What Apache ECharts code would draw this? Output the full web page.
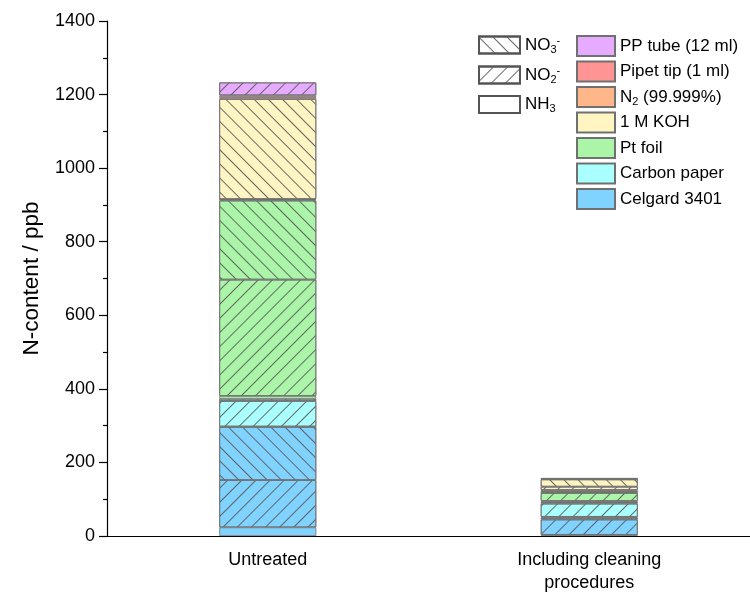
<!DOCTYPE html>
<html>
<head>
<meta charset="utf-8">
<script src="https://cdn.jsdelivr.net/npm/echarts@6/dist/echarts.min.js"></script>
<style>html,body{margin:0;padding:0;background:#fff}#c{width:750px;height:595px}</style>
</head>
<body>
<div id="c"></div>
<script>
// ---- data ----
const categories = ['Untreated', 'Including cleaning\nprocedures'];
const sources = ['Celgard 3401', 'Carbon paper', 'Pt foil', '1 M KOH', 'N2 (99.999%)', 'Pipet tip (1 ml)', 'PP tube (12 ml)'];
const sourceColors = ['#80d2ff', '#aaffff', '#aaf5a8', '#fff5c2', '#ffb688', '#ff9494', '#e6aaff'];
// NH3 / NO2- / NO3- contributions (ppb) per source, for each category
const nh3Untreated = [23.5, 1, 7.6, 2, 5, 5, 0];
const no2Untreated = [128.5, 69.5, 316.4, 2, 0, 0, 35];
const no3Untreated = [144.5, 6, 215, 272, 0, 0, 0];
const nh3Cleaning = [3, 2, 3, 3, 1, 1, 1];
const no2Cleaning = [42, 36, 22, 9, 0, 0, 0];
const no3Cleaning = [5, 4, 5, 20, 0, 0, 0];
const speciesNames = ['NH3', 'NO2-', 'NO3-'];
const yTicks = [0, 200, 400, 600, 800, 1000, 1200, 1400];

// ---- styles ----
const hatch = (rot) => ({
  symbol: 'rect', symbolSize: 1, dashArrayX: [1, 0], dashArrayY: [1, 8.5],
  rotation: rot, color: 'rgba(90,90,90,0.9)'
});
const decals = { 'NH3': null, 'NO2-': hatch(-Math.PI / 4), 'NO3-': hatch(Math.PI / 4) };
const species = [
  { key: 'NH3', u: nh3Untreated, c: nh3Cleaning },
  { key: 'NO2-', u: no2Untreated, c: no2Cleaning },
  { key: 'NO3-', u: no3Untreated, c: no3Cleaning }
];
const nz = v => (v === 0 ? null : v);

const series = [];
sources.forEach((src, i) => {
  species.forEach((sp) => {
    const st = { color: sourceColors[i], borderColor: '#707070', borderWidth: 0.8 };
    if (decals[sp.key]) st.decal = decals[sp.key];
    series.push({
      type: 'bar', stack: 'total', barWidth: 97,
      name: sp.key === 'NH3' ? src : src + ' ' + sp.key,
      data: [nz(sp.u[i]), nz(sp.c[i])],
      itemStyle: st, emphasis: { disabled: true }
    });
  });
});
// pattern legend entries
speciesNames.forEach((k) => {
  const st = { color: '#ffffff', borderColor: '#555', borderWidth: 1 };
  if (decals[k]) st.decal = decals[k];
  series.push({ type: 'bar', stack: 'total', name: k, data: [], itemStyle: st });
});

const richNames = {
  'NO3-': '{t|NO}{sub|3}{sup|-}',
  'NO2-': '{t|NO}{sub|2}{sup|-}',
  'NH3': '{t|NH}{sub|3}',
  'N2 (99.999%)': '{t|N}{sub|2}{t| (99.999%)}'
};
const rich = {
  t: { fontSize: 17, color: '#000', fontFamily: 'Liberation Sans, Arial' },
  sub: { fontSize: 11, color: '#000', padding: [9, 0, 0, 0], fontFamily: 'Liberation Sans, Arial' },
  sup: { fontSize: 11, color: '#000', padding: [0, 0, 9, 0], fontFamily: 'Liberation Sans, Arial' }
};
const fmt = n => richNames[n] || '{t|' + n + '}';

const chart = echarts.init(document.getElementById('c'), null, { renderer: 'canvas' });
chart.setOption({
  animation: false,
  textStyle: { fontFamily: 'Liberation Sans, Arial' },
  grid: { left: 107, top: 21, bottom: 58, width: 648 },
  legend: [
    {
      orient: 'vertical', left: 478, top: 35, padding: 0, icon: 'rect',
      itemWidth: 41, itemHeight: 17, itemGap: 10, selectedMode: false,
      data: ['NO3-', 'NO2-', 'NH3'], formatter: fmt, textStyle: { rich }
    },
    {
      orient: 'vertical', left: 576, top: 35, padding: 0, icon: 'rect',
      itemWidth: 38, itemHeight: 20, itemGap: 3.5, selectedMode: false,
      data: sources.slice().reverse(), formatter: fmt, textStyle: { rich }
    }
  ],
  xAxis: {
    type: 'category', data: categories,
    axisLine: { lineStyle: { color: '#000', width: 1.2 } },
    axisTick: { alignWithLabel: true, length: 6, lineStyle: { color: '#000', width: 1.2 } },
    axisLabel: { fontSize: 18, color: '#000', margin: 13, lineHeight: 23 }
  },
  yAxis: {
    type: 'value', min: yTicks[0], max: yTicks[yTicks.length - 1], interval: 200,
    name: 'N-content / ppb', nameLocation: 'middle', nameGap: 64,
    nameTextStyle: { fontSize: 22.5, color: '#000' },
    axisLine: { show: true, lineStyle: { color: '#000', width: 1.2 } },
    axisTick: { show: true, length: 8, lineStyle: { color: '#000', width: 1.2 } },
    minorTick: { show: true, splitNumber: 2, length: 4, lineStyle: { color: '#000', width: 1.2 } },
    splitLine: { show: false },
    axisLabel: { fontSize: 18, color: '#000', margin: 12, formatter: v => String(v) }
  },
  series
});
</script>
</body>
</html>
